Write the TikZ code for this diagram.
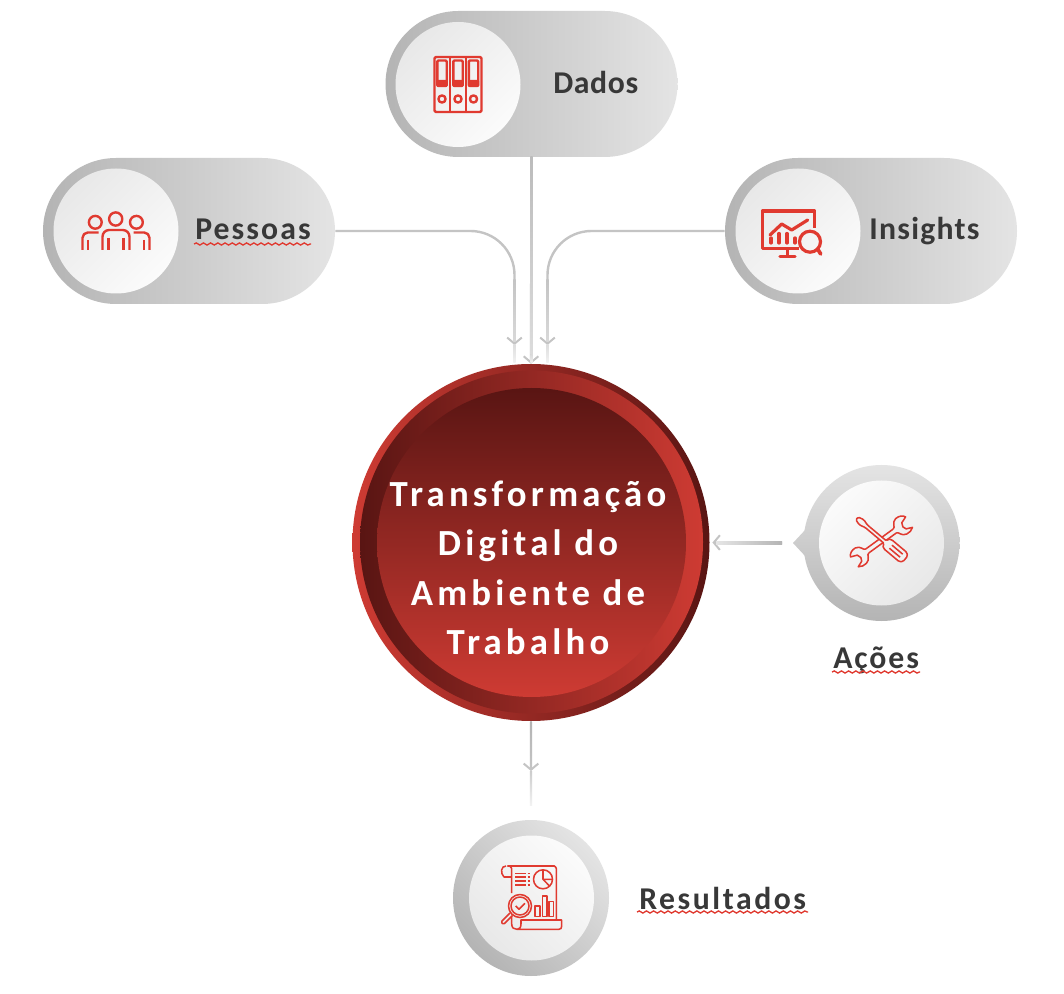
\documentclass[tikz,border=0pt]{standalone}
\usepackage{fontspec}
\setmainfont{Carlito}
\usetikzlibrary{arrows.meta,shapes.misc,decorations.pathmorphing}
\definecolor{ired}{HTML}{E03A30}
\definecolor{txt}{HTML}{383838}
\definecolor{brightred}{HTML}{CE3B33}
\definecolor{darkred}{HTML}{591513}
\definecolor{lineg}{HTML}{C4C4C4}
\definecolor{ga}{HTML}{B4B4B4}
\definecolor{gb}{HTML}{E4E4E4}
\definecolor{ca}{HTML}{E8E8E8}
\definecolor{cb}{HTML}{FBFBFB}
\tikzset{
  pill/.style={rounded rectangle,inner sep=0pt,minimum width=292*0.75pt,minimum height=146*0.75pt,left color=ga,right color=gb},
  disc/.style={circle,inner sep=0pt,minimum size=125*0.75pt,top color=ca,bottom color=cb,shading angle=#1},
  disc/.default=45,
  ring/.style={circle,inner sep=0pt,minimum size=156*0.75pt},
  label/.style={anchor=base west,inner sep=0pt,font=\fontsize{23.8pt}{26pt}\selectfont\bfseries,text=txt},
  conn/.style={draw=lineg,line width=1.8pt,-{Straight Barb[length=4.6pt,width=11pt,line width=1.5pt]}},
  wavy/.style={draw=ired,line width=1pt,decorate,decoration={snake,segment length=5.4pt,amplitude=0.8pt}},
  icon/.style={draw=ired,line width=1.8pt,line join=round},
  iconthin/.style={draw=ired,line width=1.15pt,line join=round},
}
\begin{document}
\begin{tikzpicture}[x=0.75pt,y=-0.75pt]
\path[use as bounding box,fill=white] (0,0) rectangle (1064,994);

% ---- pills
\node[pill] (dados) at (531.5,84) {};
\node[pill] (pessoas) at (189,231) {};
\node[pill] (insights) at (871,231) {};
\node[disc] (dadosd) at (458,84.5) {};
\node[disc] (pessoasd) at (116,231) {};
\node[disc] (insightsd) at (798,231) {};

% ---- central circle
\node[circle,inner sep=0pt,minimum size=357*0.75pt,left color=brightred,right color=darkred] (centre) at (531,542.5) {};
\node[circle,inner sep=0pt,minimum size=343*0.75pt,left color=darkred,right color=brightred] (centrem) at (531.5,542) {};
\node[circle,inner sep=0pt,minimum size=309*0.75pt,top color=darkred,bottom color=brightred] (centrei) at (531.5,542.5) {};
\node[inner sep=0pt,align=center,text=white,font=\fontsize{27.6pt}{37pt}\selectfont\bfseries\addfontfeature{LetterSpace=11.5}] (ctext) at (528,568) {Transformação\\Digital do\\Ambiente de\\Trabalho};

% ---- ações
\shade[top color=black!18,bottom color=black!22] (793,543) -- (806,529) -- (806,557) -- cycle;
\node[ring,top color=gb,bottom color=ga] (acoes) at (881.5,543) {};
\node[disc=45,top color=ca,bottom color=cb,shading angle=225] (acoesd) at (881.5,543) {};

% ---- resultados
\node[ring,top color=ga,bottom color=gb,shading angle=135] (result) at (531,898) {};
\node[disc,top color=ca,bottom color=cb,shading angle=135] (resultd) at (531.5,898) {};

% ---- connectors
\coordinate (ptip) at (514.5,345);
\coordinate (itip) at (547.5,345);
\coordinate (astart) at (782,543);
\coordinate (rtip) at (531,771);
\coordinate (rend) at (531,805);
\draw[conn,rounded corners=33pt] (pessoas.east) -| (ptip);
\draw[conn,rounded corners=33pt] (insights.west) -| (itip);
\draw[conn] (dados.south) -- (centre.north);
\draw[conn,shorten >=2pt] (astart) -- (centre.east);
\draw[conn] (centre.south) -- (rtip);

% gradient along the straight parts of the connectors
\shade[top color=ga!90!white,bottom color=black!14] (530.3,157) rectangle (532.7,355);
\shade[top color=black!14,bottom color=black!6] (530.3,355) rectangle (532.7,363);
\shade[top color=lineg,bottom color=black!15] (513.3,280) rectangle (515.7,342);
\shade[top color=black!13,bottom color=black!5] (513.3,345) rectangle (515.7,363);
\shade[top color=lineg,bottom color=black!15] (546.3,280) rectangle (548.7,342);
\shade[top color=black!13,bottom color=black!5] (546.3,345) rectangle (548.7,363);
\shade[left color=black!10,right color=ga] (716,541.8) rectangle (782,544.2);
\shade[top color=ga,bottom color=lineg] (529.8,722) rectangle (532.2,768);
\shade[top color=black!20,bottom color=black!5] (529.8,771) rectangle (532.2,805);

% ---- labels
\node[label,font=\fontsize{23.8pt}{26pt}\selectfont\bfseries\addfontfeature{LetterSpace=2}] (ldados) at (553,94) {Dados};
\node[label,font=\fontsize{23.8pt}{26pt}\selectfont\bfseries\addfontfeature{LetterSpace=6.5}] (lpessoas) at (195,240) {Pessoas};
\node[label,font=\fontsize{23.8pt}{26pt}\selectfont\bfseries\addfontfeature{LetterSpace=4}] (linsights) at (869,240) {Insights};
\node[label,font=\fontsize{23.8pt}{26pt}\selectfont\bfseries\addfontfeature{LetterSpace=6}] (lacoes) at (833,668) {Ações};
\node[label,font=\fontsize{23.8pt}{26pt}\selectfont\bfseries\addfontfeature{LetterSpace=8}] (lresult) at (639,909) {Resultados};
\draw[wavy] (194,244) -- (311,244);
\draw[wavy] (832,672) -- (920,672);
\draw[wavy] (637,912) -- (808,912);

% ---- icon: binders
\draw[icon,rounded corners=1pt] (434.5,57) rectangle (481.5,112);
\draw[icon] (450,57) -- (450,112) (465.7,57) -- (465.7,112);
\foreach \bx in {442,458,473.5}{
  \draw[icon,rounded corners=0.8pt] (\bx-4.7,60.5) rectangle (\bx+4.7,86);
  \fill[ired,rounded corners=0.8pt] (\bx-5.5,80) rectangle (\bx+5.5,87);
  \draw[icon] (\bx,99) circle[radius=3.6];
}

% ---- icon: people
\draw[icon] (115.7,219) circle[radius=6.6];
\draw[icon] (95.3,222.3) circle[radius=6.4];
\draw[icon] (136.4,222.3) circle[radius=6.4];
\draw[icon,rounded corners=5pt] (102.5,250) -- (102.5,230) -- (129.5,230) -- (129.5,250);
\draw[icon] (108.3,238) -- (108.3,250) (123.5,238) -- (123.5,250);
\draw[icon,rounded corners=4pt] (82.5,250) -- (82.5,232.5) -- (98.5,232.5);
\draw[icon,rounded corners=4pt] (149.5,250) -- (149.5,232.5) -- (133.5,232.5);
\draw[icon] (88,240) -- (88,250) (144,240) -- (144,250);

% ---- icon: monitor
\draw[icon,line width=2.4pt] (814.5,228) -- (814.5,211) -- (762.5,211) -- (762.5,248.5) -- (799,248.5);
\draw[icon,line width=2.4pt] (787.3,249) -- (787.3,256);
\draw[icon,line width=2.4pt,line cap=round] (780,256.5) -- (795,256.5);
\draw[icon,line width=2.4pt,line cap=round] (770,235) -- (781.7,224) -- (791.7,230) -- (807.7,220);
\draw[icon,line width=2.4pt,line cap=round] (771,238) -- (771,243) (779,233.5) -- (779,243) (787,233.5) -- (787,243) (795,238) -- (795,243);
\draw[icon,line width=2.4pt] (810,241.7) circle[radius=10.5];
\draw[icon,line width=2.8pt,line cap=round] (817.6,249) -- (820.7,254);

% ---- icon: tools
\begin{scope}[shift={(881,541)},rotate=36]
  \foreach \sx in {1,-1}{
    \begin{scope}[xscale=\sx]
      \draw[iconthin] (17,2.5) .. controls (20,2.5) and (19,8.5) .. (25,9.5)
        .. controls (28,10) and (31,9.5) .. (33.5,7.5) -- (27.5,5) -- (26,1.5) -- (27.5,-2.5) -- (34,-5)
        .. controls (33,-8) and (29,-10) .. (25,-9.5)
        .. controls (19,-8.5) and (20,-2.5) .. (17,-2.5);
    \end{scope}
  }
  \draw[iconthin] (-17,2.5) -- (17,2.5) (-17,-2.5) -- (17,-2.5);
\end{scope}
\begin{scope}[shift={(881.5,539)},rotate=-40]
  \draw[iconthin,fill=black!5,rounded corners=1pt] (-32,-1.8) -- (-26,-3.4) -- (-20,-1.7) -- (5,-1.7) -- (5,-4) -- (8,-6) -- (28,-6) -- (31,-3.5) -- (31,3.5) -- (28,6) -- (8,6) -- (5,4) -- (5,1.7) -- (-20,1.7) -- (-26,3.4) -- (-32,1.8) -- cycle;
  \draw[iconthin] (12,-2) -- (26,-2) (12,2) -- (26,2);
\end{scope}

% ---- icon: report
\draw[iconthin,rounded corners=2pt] (511.7,893) -- (511.7,871) .. controls (511.7,866) and (508,866) .. (506,866) -- (552,866) -- (556.3,866) -- (556.3,920);
\draw[iconthin] (511.7,877) -- (504,877) .. controls (500,873) and (501,866) .. (506,866);
\draw[iconthin] (511.7,917) -- (511.7,924) .. controls (511.7,928) and (514,929.3) .. (517,929.3) -- (559,929.3) .. controls (561,929.3) and (561.7,928) .. (561.7,926) -- (561.7,920) -- (521,920) -- (521,924) .. controls (521,928) and (519,929.3) .. (517,929.3);
\draw[iconthin,line width=1.2pt] (515,873.3) -- (526,873.3) (527.5,873.3) -- (530,873.3)
  (515,877) -- (526,877) (527.5,877) -- (530,877)
  (515,881) -- (526,881) (527.5,881) -- (530,881)
  (515,885) -- (526,885) (527.5,885) -- (530,885);
\draw[iconthin] (543,879.3) circle[radius=9.5];
\draw[iconthin] (543,870) -- (543,879.3) -- (552.5,879.3) (543,879.3) -- (549.5,886);
\draw[iconthin] (520,906) circle[radius=11.5];
\draw[iconthin] (520,906) circle[radius=9];
\draw[iconthin] (515.7,906) -- (519,909.3) -- (525,903.3);
\draw[iconthin,rounded corners=1pt] (510,913) -- (501,922) -- (503.5,924.5) -- (512.5,915.5);
\draw[iconthin] (535,906) rectangle (540,916.7);
\draw[iconthin] (542.3,896) rectangle (547,916.7);
\draw[iconthin] (549,901.7) rectangle (553.7,916.7);
\end{tikzpicture}
\end{document}
